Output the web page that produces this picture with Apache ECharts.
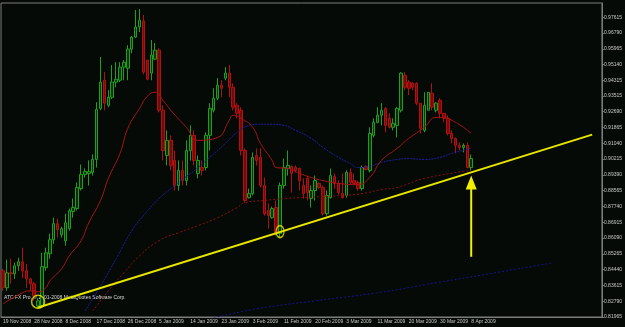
<!DOCTYPE html>
<html>
<head>
<meta charset="utf-8">
<script src="https://cdn.jsdelivr.net/npm/echarts@6/dist/echarts.min.js"></script>
<style>
html, body { margin: 0; padding: 0; background: #060a06; }
#chart { width: 625px; height: 327px; }
</style>
</head>
<body>
<div id="chart"></div>
<script>
// daily EUR candles, 19 Nov 2008 .. 8 Apr 2009 (sunday bars included)
const opens = [
  0.8438, 0.8349, 0.8427, 0.8422, 0.8464, 0.8485, 0.8438, 0.8396, 0.8370, 0.8255,
  0.8255, 0.8454, 0.8527, 0.8600, 0.8684, 0.8626, 0.8595, 0.8658, 0.8747, 0.8763,
  0.8867, 0.8941, 0.8946, 0.8951, 0.9019, 0.9286, 0.9433, 0.9302, 0.9344, 0.9423,
  0.9433, 0.9501, 0.9496, 0.9595, 0.9658, 0.9711, 0.9742, 0.9538, 0.9470, 0.9543,
  0.9590, 0.9276, 0.9040, 0.9119, 0.9014, 0.8883, 0.8962, 0.8909, 0.9066, 0.9145,
  0.8946, 0.8977, 0.8977, 0.9145, 0.9276, 0.9339, 0.9407, 0.9444, 0.9470, 0.9396,
  0.9302, 0.9276, 0.9066, 0.8820, 0.8841, 0.9040, 0.9030, 0.8883, 0.8752, 0.8715,
  0.8768, 0.8632, 0.8883, 0.8972, 0.8983, 0.8977, 0.8972, 0.8883, 0.8920, 0.8815,
  0.8857, 0.8894, 0.8873, 0.8736, 0.8820, 0.8930, 0.8894, 0.8841, 0.8831, 0.8951,
  0.8909, 0.8899, 0.8867, 0.8983, 0.8962, 0.9145, 0.9213, 0.9250, 0.9286, 0.9234,
  0.9187, 0.9197, 0.9276, 0.9459, 0.9423, 0.9417, 0.9417, 0.9313, 0.9171, 0.9276,
  0.9365, 0.9276, 0.9328, 0.9260, 0.9234, 0.9155, 0.9129, 0.9093, 0.9082, 0.9093,
  0.8977
];
const closes = [
  0.8349, 0.8427, 0.8422, 0.8464, 0.8485, 0.8438, 0.8396, 0.8370, 0.8307, 0.8281,
  0.8459, 0.8532, 0.8600, 0.8684, 0.8653, 0.8658, 0.8689, 0.8752, 0.8768, 0.8873,
  0.8941, 0.8956, 0.8956, 0.9019, 0.9281, 0.9423, 0.9313, 0.9344, 0.9423, 0.9438,
  0.9501, 0.9527, 0.9595, 0.9658, 0.9711, 0.9747, 0.9475, 0.9438, 0.9564, 0.9590,
  0.9276, 0.9066, 0.9119, 0.8988, 0.8883, 0.8962, 0.8909, 0.9066, 0.9145, 0.9014,
  0.9014, 0.8962, 0.9145, 0.9286, 0.9339, 0.9407, 0.9391, 0.9470, 0.9396, 0.9292,
  0.9260, 0.9066, 0.8805, 0.8841, 0.9030, 0.9014, 0.8883, 0.8736, 0.8726, 0.8763,
  0.8632, 0.8883, 0.8977, 0.8988, 0.8946, 0.8962, 0.8909, 0.8841, 0.8846, 0.8857,
  0.8909, 0.8873, 0.8736, 0.8831, 0.8935, 0.8894, 0.8846, 0.8820, 0.8951, 0.8899,
  0.8894, 0.8867, 0.8977, 0.8967, 0.9155, 0.9213, 0.9250, 0.9276, 0.9197, 0.9187,
  0.9208, 0.9286, 0.9470, 0.9396, 0.9391, 0.9396, 0.9313, 0.9182, 0.9302, 0.9370,
  0.9292, 0.9313, 0.9260, 0.9234, 0.9155, 0.9129, 0.9093, 0.9082, 0.9093, 0.8977,
  0.9024
];
const lows = [
  0.8333, 0.8333, 0.8370, 0.8396, 0.8438, 0.8401, 0.8349, 0.8333, 0.8281, 0.8239,
  0.8244, 0.8438, 0.8501, 0.8579, 0.8611, 0.8611, 0.8569, 0.8647, 0.8715, 0.8752,
  0.8857, 0.8925, 0.8883, 0.8935, 0.8977, 0.9276, 0.9276, 0.9292, 0.9334, 0.9396,
  0.9423, 0.9433, 0.9433, 0.9574, 0.9653, 0.9684, 0.9464, 0.9433, 0.9433, 0.9538,
  0.9265, 0.9014, 0.8988, 0.8962, 0.8857, 0.8857, 0.8883, 0.8883, 0.9014, 0.8988,
  0.8920, 0.8935, 0.8962, 0.9066, 0.9265, 0.9328, 0.9344, 0.9433, 0.9344, 0.9276,
  0.9234, 0.9040, 0.8794, 0.8815, 0.8831, 0.8988, 0.8873, 0.8726, 0.8658, 0.8710,
  0.8621, 0.8611, 0.8867, 0.8935, 0.8846, 0.8951, 0.8857, 0.8815, 0.8805, 0.8768,
  0.8805, 0.8867, 0.8726, 0.8726, 0.8815, 0.8867, 0.8836, 0.8815, 0.8820, 0.8888,
  0.8883, 0.8857, 0.8857, 0.8962, 0.8951, 0.9134, 0.9208, 0.9197, 0.9161, 0.9182,
  0.9171, 0.9134, 0.9265, 0.9381, 0.9355, 0.9381, 0.9302, 0.9155, 0.9161, 0.9276,
  0.9276, 0.9265, 0.9234, 0.9213, 0.9145, 0.9103, 0.9051, 0.9066, 0.9056, 0.8972,
  0.8962
];
const highs = [
  0.8448, 0.8496, 0.8501, 0.8480, 0.8506, 0.8558, 0.8474, 0.8401, 0.8380, 0.8296,
  0.8532, 0.8558, 0.8632, 0.8715, 0.8710, 0.8668, 0.8736, 0.8763, 0.8815, 0.8899,
  0.8993, 0.8972, 0.9014, 0.9045, 0.9318, 0.9554, 0.9475, 0.9381, 0.9512, 0.9527,
  0.9527, 0.9538, 0.9616, 0.9664, 0.9800, 0.9805, 0.9774, 0.9538, 0.9643, 0.9627,
  0.9601, 0.9302, 0.9171, 0.9145, 0.9066, 0.9014, 0.9014, 0.9119, 0.9197, 0.9171,
  0.9040, 0.9014, 0.9161, 0.9313, 0.9391, 0.9444, 0.9433, 0.9501, 0.9512, 0.9417,
  0.9313, 0.9292, 0.9077, 0.8867, 0.9056, 0.9077, 0.9077, 0.8925, 0.8789, 0.8773,
  0.8805, 0.8899, 0.9024, 0.9066, 0.8988, 0.8988, 0.8977, 0.8920, 0.8935, 0.8883,
  0.8935, 0.8899, 0.8883, 0.8857, 0.8972, 0.8946, 0.8909, 0.8946, 0.8962, 0.8972,
  0.8946, 0.8909, 0.8988, 0.8988, 0.9187, 0.9234, 0.9292, 0.9313, 0.9292, 0.9260,
  0.9234, 0.9292, 0.9475, 0.9475, 0.9433, 0.9423, 0.9423, 0.9313, 0.9370, 0.9370,
  0.9417, 0.9318, 0.9339, 0.9260, 0.9250, 0.9171, 0.9134, 0.9108, 0.9103, 0.9108,
  0.9045
];

// moving averages: [bar index, price]
const maFast = [
  [0, 0.8265], [5, 0.8323], [7, 0.8333], [9, 0.8328], [11, 0.8349], [12, 0.8385],
  [15, 0.8448], [17, 0.8516], [20, 0.8595], [22, 0.8689], [25, 0.8805], [27, 0.8920],
  [30, 0.9051], [32, 0.9182], [35, 0.9286], [37, 0.9349], [39, 0.9370], [41, 0.9328],
  [43, 0.9276], [47, 0.9187], [50, 0.9119], [55, 0.9134], [58, 0.9224], [59, 0.9250],
  [61, 0.9234], [64, 0.9187], [66, 0.9103], [69, 0.9014], [70, 0.8977], [73, 0.8972],
  [76, 0.8946], [79, 0.8925], [82, 0.8909], [86, 0.8894], [91, 0.8888], [94, 0.8925],
  [97, 0.9014], [101, 0.9077], [104, 0.9129], [108, 0.9187], [111, 0.9239], [113, 0.9239],
  [115, 0.9224], [118, 0.9187], [120, 0.9155]
];
const maMid = [
  [21, 0.8228], [25, 0.8359], [29, 0.8501], [33, 0.8647], [36, 0.8726], [40, 0.8815],
  [44, 0.8883], [47, 0.8930], [50, 0.8977], [53, 0.9030], [57, 0.9103], [60, 0.9161],
  [63, 0.9197], [65, 0.9203], [69, 0.9203], [72, 0.9197], [75, 0.9171], [79, 0.9129],
  [82, 0.9082], [86, 0.9030], [89, 0.8998], [91, 0.8977], [94, 0.8983], [97, 0.9004],
  [101, 0.9019], [104, 0.9024], [108, 0.9019], [112, 0.9030], [115, 0.9051], [120, 0.9077]
];
const maSlow = [
  [23, 0.8228], [27, 0.8333], [31, 0.8427], [35, 0.8516], [40, 0.8595], [45, 0.8637],
  [50, 0.8674], [55, 0.8715], [60, 0.8768], [62, 0.8794], [67, 0.8805], [72, 0.8815],
  [77, 0.8820], [82, 0.8826], [87, 0.8831], [92, 0.8841], [97, 0.8862], [101, 0.8873],
  [108, 0.8920], [120, 0.8962]
];
// long blue line low in the right half
const maLong = [
  [54, 0.8192], [65, 0.8239], [80, 0.8281], [96, 0.8323], [111, 0.8375], [126, 0.8427], [141, 0.8480]
];

// hand drawn objects
const trendLine = [[9, 0.8246], [151, 0.9149]];
const circles = [[9, 0.8276], [71, 0.8642]];
const arrow = [[120, 0.8511], [120, 0.8899]];

const yTicks = [
  0.81965, 0.82790, 0.83615, 0.84440, 0.85265, 0.86090, 0.86915, 0.87740, 0.88565, 0.89390,
  0.90215, 0.91040, 0.91865, 0.92690, 0.93515, 0.94315, 0.95140, 0.95965, 0.96790, 0.97615
];
const xTickLabels = [
  '19 Nov 2008', '28 Nov 2008', '8 Dec 2008', '17 Dec 2008', '26 Dec 2008', '5 Jan 2009',
  '14 Jan 2009', '23 Jan 2009', '3 Feb 2009', '11 Feb 2009', '20 Feb 2009', '3 Mar 2009',
  '11 Mar 2009', '20 Mar 2009', '30 Mar 2009', '8 Apr 2009'
];

const months = ['Jan', 'Feb', 'Mar', 'Apr', 'May', 'Jun', 'Jul', 'Aug', 'Sep', 'Oct', 'Nov', 'Dec'];
let dates = [];
let d = new Date(Date.UTC(2008, 10, 19));
while (dates.length < 154) {
  if (d.getUTCDay() !== 6) {
    dates.push(d.getUTCDate() + ' ' + months[d.getUTCMonth()] + ' ' + d.getUTCFullYear());
  }
  d.setUTCDate(d.getUTCDate() + 1);
}

let candles = opens.map((o, i) => [o, closes[i], lows[i], highs[i]]);

let chart = echarts.init(document.getElementById('chart'));
let labelFont = { color: '#c8c8c8', fontSize: 5, fontFamily: 'Liberation Sans' };

chart.setOption({
  animation: false,
  backgroundColor: '#060a06',
  grid: {
    left: 0, right: 17, top: 3, bottom: 10,
    show: true, borderColor: '#7c7c7c', borderWidth: 1
  },
  xAxis: {
    type: 'category',
    data: dates,
    boundaryGap: true,
    axisLine: { lineStyle: { color: '#7c7c7c' } },
    axisTick: {
      alignWithLabel: true, length: 2,
      interval: (i) => i % 8 === 0 && i <= 120,
      lineStyle: { color: '#7c7c7c' }
    },
    axisLabel: Object.assign({
      interval: (i) => i % 8 === 0 && i <= 120,
      formatter: (v, i) => xTickLabels[i / 8],
      align: 'left', margin: 2
    }, labelFont),
    splitLine: { show: false }
  },
  yAxis: {
    type: 'value',
    position: 'right',
    min: 0.81965,
    max: 0.98362,
    axisLine: { show: true, lineStyle: { color: '#7c7c7c' } },
    axisTick: { show: true, length: 2, customValues: yTicks, lineStyle: { color: '#7c7c7c' } },
    axisLabel: Object.assign({
      customValues: yTicks,
      formatter: (v) => v.toFixed(5),
      margin: 2
    }, labelFont),
    splitLine: { show: false }
  },
  graphic: [{
    type: 'text', left: 4, top: 295,
    style: { text: 'ATC FX Pro, \u00a9 2001-2008 MetaQuotes Software Corp.', fill: '#d8d8d8', fontSize: 5, fontFamily: 'Liberation Sans' }
  }],
  series: [
    {
      type: 'line', data: maLong, symbol: 'none', smooth: true,
      lineStyle: { color: '#14148a', width: 1, type: [2, 2] }
    },
    {
      type: 'line', data: maSlow, symbol: 'none', smooth: true,
      lineStyle: { color: '#8a1010', width: 1, type: [2, 2] }
    },
    {
      type: 'line', data: maMid, symbol: 'none', smooth: true,
      lineStyle: { color: '#1c1ca0', width: 1, type: [2, 1] }
    },
    {
      type: 'line', data: maFast, symbol: 'none', smooth: true,
      lineStyle: { color: '#a81414', width: 1 }
    },
    {
      type: 'candlestick',
      data: candles,
      barWidth: 3,
      itemStyle: {
        color: '#0b300b', borderColor: '#1ea01e',
        color0: '#7a0808', borderColor0: '#b01212',
        borderWidth: 1
      },
      markLine: {
        silent: true, symbol: 'none',
        lineStyle: { opacity: 0 },
        label: {
          show: true, position: 'end', distance: 1,
          formatter: (p) => p.value.toFixed(5),
          backgroundColor: '#ffffff', color: '#000000',
          fontSize: 5, fontFamily: 'Liberation Sans', padding: [1, 1]
        },
        data: [{ yAxis: closes[closes.length - 1] }]
      }
    },
    {
      type: 'line', data: trendLine, symbol: 'none',
      lineStyle: { color: '#e6e600', width: 2 }
    },
    {
      type: 'scatter',
      data: [
        { value: circles[0], symbolSize: [13, 13] },
        { value: circles[1], symbolSize: [8, 12] }
      ],
      symbol: 'circle',
      itemStyle: { color: 'rgba(0,0,0,0)', borderColor: '#e6e600', borderWidth: 1.5 }
    },
    {
      type: 'line',
      data: [
        { value: arrow[0], symbol: 'none' },
        { value: arrow[1], symbol: 'triangle', symbolSize: [11, 14] }
      ],
      lineStyle: { color: '#f0f000', width: 2 },
      itemStyle: { color: '#f0f000' }
    }
  ]
});
</script>
</body>
</html>
